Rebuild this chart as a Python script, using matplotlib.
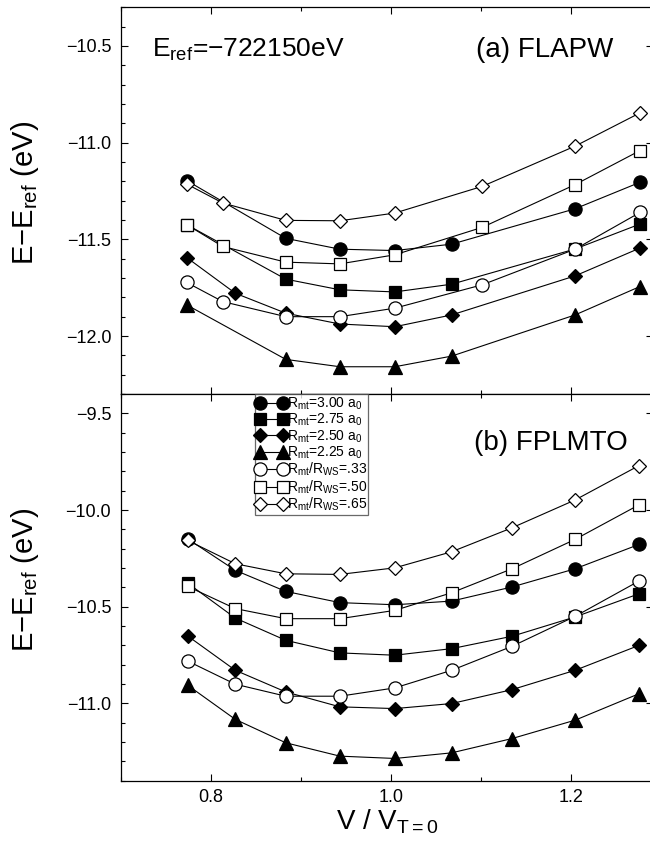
import matplotlib
matplotlib.use('Agg')
import matplotlib.pyplot as plt
from matplotlib.ticker import MultipleLocator

plt.rcParams['font.family'] = ['Liberation Sans', 'DejaVu Sans']
plt.rcParams['mathtext.fontset'] = 'custom'
plt.rcParams['mathtext.rm'] = 'Liberation Sans'
plt.rcParams['mathtext.it'] = 'Liberation Sans:italic'
plt.rcParams['mathtext.bf'] = 'Liberation Sans:bold'

# (a) FLAPW
x_a = [0.773, 0.883, 0.943, 1.004, 1.067, 1.204, 1.276]
x_a_dia = [0.773, 0.827, 0.883, 0.943, 1.004, 1.067, 1.204, 1.276]
x_a_open = [0.773, 0.813, 0.883, 0.943, 1.004, 1.101, 1.204, 1.276]
a_rmt300 = [-11.196, -11.495, -11.551, -11.558, -11.525, -11.342, -11.205]
a_rmt275 = [-11.424, -11.706, -11.761, -11.772, -11.732, -11.550, -11.421]
a_rmt250 = [-11.594, -11.779, -11.882, -11.938, -11.952, -11.891, -11.689, -11.545]
a_rmt225 = [-11.839, -12.121, -12.159, -12.159, -12.104, -11.891, -11.744]
a_r33 = [-11.723, -11.822, -11.900, -11.900, -11.856, -11.735, -11.551, -11.361]
a_r50 = [-11.424, -11.537, -11.618, -11.627, -11.580, -11.438, -11.217, -11.041]
a_r65 = [-11.214, -11.312, -11.402, -11.404, -11.364, -11.226, -11.018, -10.846]

# (b) FPLMTO
x_b = [0.774, 0.827, 0.883, 0.943, 1.004, 1.067, 1.134, 1.204, 1.275]
b_rmt300 = [-10.149, -10.312, -10.421, -10.479, -10.490, -10.471, -10.398, -10.304, -10.178]
b_rmt275 = [-10.378, -10.559, -10.674, -10.739, -10.751, -10.717, -10.653, -10.553, -10.433]
b_rmt250 = [-10.651, -10.829, -10.941, -11.018, -11.027, -11.001, -10.929, -10.829, -10.700]
b_rmt225 = [-10.906, -11.083, -11.204, -11.273, -11.285, -11.256, -11.182, -11.087, -10.950]
b_r33 = [-10.781, -10.901, -10.963, -10.963, -10.920, -10.829, -10.705, -10.550, -10.367]
b_r50 = [-10.395, -10.510, -10.562, -10.562, -10.519, -10.428, -10.304, -10.152, -9.973]
b_r65 = [-10.157, -10.278, -10.330, -10.333, -10.299, -10.216, -10.092, -9.948, -9.770]

labels = [r'R$_{\mathrm{mt}}$=3.00 a$_0$', r'R$_{\mathrm{mt}}$=2.75 a$_0$',
          r'R$_{\mathrm{mt}}$=2.50 a$_0$', r'R$_{\mathrm{mt}}$=2.25 a$_0$',
          r'R$_{\mathrm{mt}}$/R$_{\mathrm{WS}}$=.33', r'R$_{\mathrm{mt}}$/R$_{\mathrm{WS}}$=.50',
          r'R$_{\mathrm{mt}}$/R$_{\mathrm{WS}}$=.65']
styles = [('o', 'k', 9.5), ('s', 'k', 8.5), ('D', 'k', 7.5), ('^', 'k', 9.5),
          ('o', 'w', 9.5), ('s', 'w', 8.5), ('D', 'w', 7.5)]

fig = plt.figure(figsize=(6.5, 8.41), dpi=100)
gs = fig.add_gridspec(2, 1, left=0.186, right=1.004, top=0.9913, bottom=0.0717, hspace=0)
ax1 = fig.add_subplot(gs[0])
ax2 = fig.add_subplot(gs[1], sharex=ax1)

series_a = [(x_a, a_rmt300), (x_a, a_rmt275), (x_a_dia, a_rmt250), (x_a, a_rmt225),
            (x_a_open, a_r33), (x_a_open, a_r50), (x_a_open, a_r65)]
series_b = [(x_b, y) for y in [b_rmt300, b_rmt275, b_rmt250, b_rmt225, b_r33, b_r50, b_r65]]

for ax, series in [(ax1, series_a), (ax2, series_b)]:
    for (xs, ys), (m, fc, ms), lab in zip(series, styles, labels):
        ax.plot(xs, ys, color='k', lw=0.8, marker=m, ms=ms, mfc=fc, mec='k', mew=0.9,
                label=lab)

ax1.set_xlim(0.7, 1.29)
ax1.set_ylim(-12.3, -10.3)
ax2.set_ylim(-11.4, -9.4)

for ax in (ax1, ax2):
    ax.xaxis.set_major_locator(MultipleLocator(0.2))
    ax.xaxis.set_minor_locator(MultipleLocator(0.1))
    ax.yaxis.set_major_locator(MultipleLocator(0.5))
    ax.yaxis.set_minor_locator(MultipleLocator(0.1))
    ax.tick_params(which='both', direction='in', top=True, right=True, labelsize=13, width=0.8)
    ax.tick_params(axis='y', which='major', length=5, pad=7)
    ax.tick_params(axis='x', which='major', length=5, pad=6)
    ax.tick_params(which='minor', length=3, right=False)
    for sp in ax.spines.values():
        sp.set_linewidth(0.9)
    ax.set_ylabel(r'E$-$E$_{\mathrm{ref}}$ (eV)', fontsize=21)
    ax.yaxis.set_label_coords(-0.15, 0.52)

ax1.tick_params(labelbottom=False)
ax2.set_xlabel(r'V / V$_{\mathrm{T=0}}$', fontsize=20, labelpad=1)

ax1.text(0.058, 0.889, r'E$_{\mathrm{ref}}$=$-$722150eV', transform=ax1.transAxes,
         fontsize=19, ha='left', va='center')
ax1.text(0.926, 0.889, '(a) FLAPW', transform=ax1.transAxes,
         fontsize=20, ha='right', va='center')
ax2.text(0.953, 0.873, '(b) FPLMTO', transform=ax2.transAxes,
         fontsize=20, ha='right', va='center')

leg = ax2.legend(loc='upper left', bbox_to_anchor=(0.252, 1.0), fontsize=10,
                 numpoints=2, handlelength=2.2, handletextpad=0.0, labelspacing=0.0,
                 borderpad=0.1, borderaxespad=0, frameon=True, fancybox=False)
leg.get_frame().set_edgecolor('#444444')
leg.get_frame().set_linewidth(0.9)

fig.savefig('out.png', dpi=100)
